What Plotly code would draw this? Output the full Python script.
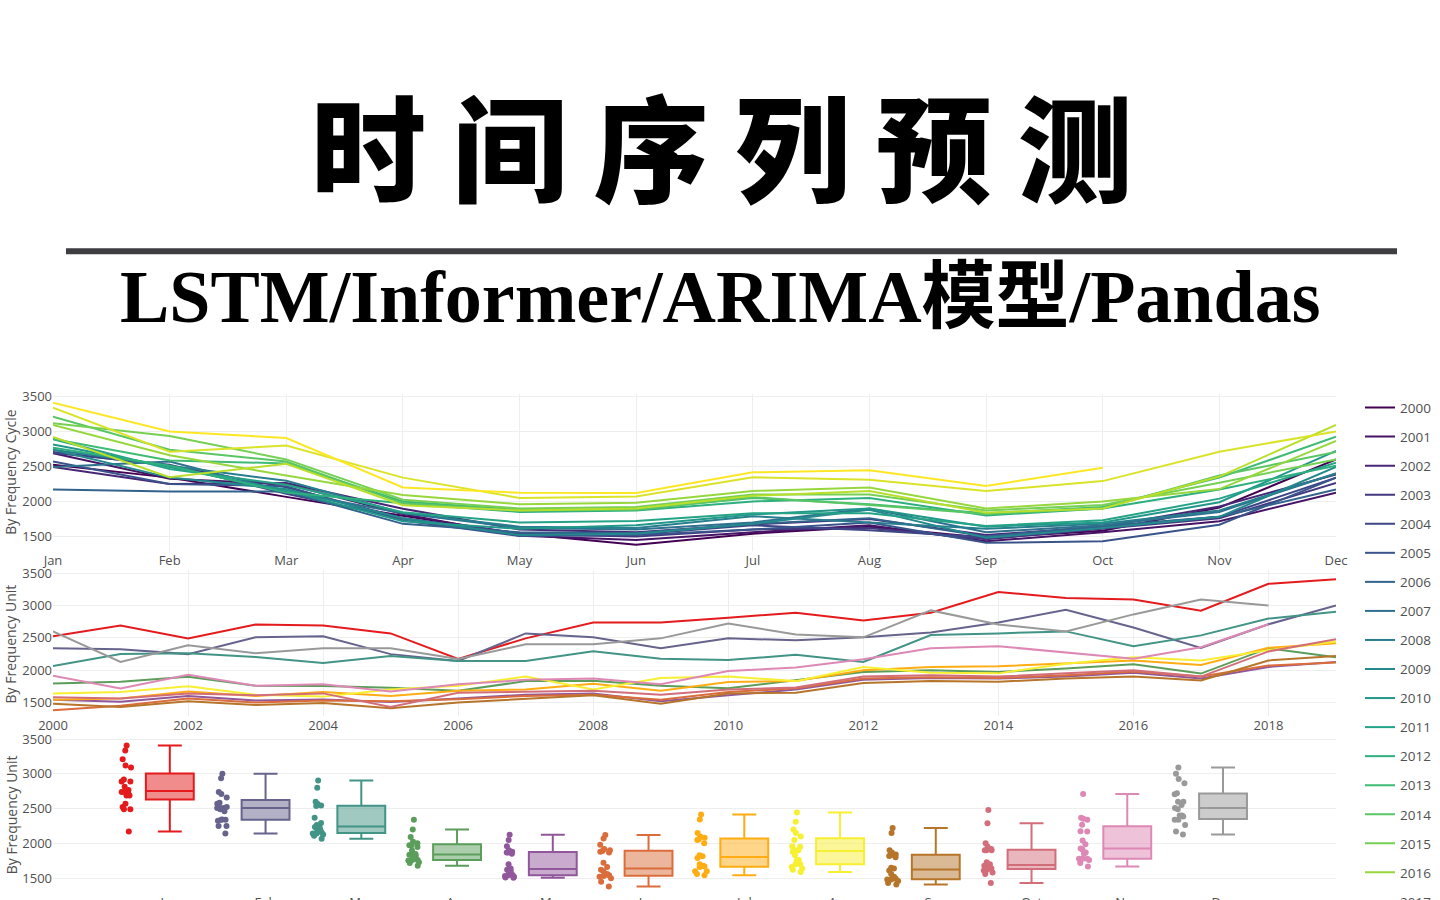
import plotly.graph_objects as go
import plotly.colors as pc

# ---------------- data ----------------
months = ['Jan', 'Feb', 'Mar', 'Apr', 'May', 'Jun', 'Jul', 'Aug', 'Sep', 'Oct', 'Nov', 'Dec']
years = list(range(2000, 2020))

v_jan = [2523, 2690, 2492, 2706, 2690, 2569, 2172, 2492, 2737, 2737, 2813, 2890, 2767, 2890, 3210, 3118, 3092, 2920, 3337, 3408]
v_feb = [2340, 2324, 2248, 2508, 2523, 2248, 2141, 2569, 2508, 2340, 2492, 2462, 2508, 2584, 2737, 2935, 2660, 2345, 2710, 3000]
v_mar = [2065, 2248, 2263, 2202, 2110, 2218, 2141, 2141, 2294, 2176, 2156, 2237, 2126, 2543, 2569, 2600, 2370, 2538, 2798, 2905]
v_apr = [1795, 1820, 1897, 1760, 1755, 1729, 1680, 1830, 1836, 1760, 1718, 1846, 1973, 2000, 1973, 2024, 2091, 1947, 2340, 2200]
v_may = [1540, 1510, 1600, 1530, 1545, 1505, 1560, 1620, 1640, 1520, 1610, 1700, 1850, 1880, 1870, 1900, 1960, 1870, 2050, 2125]
v_jun = [1380, 1450, 1560, 1500, 1530, 1520, 1550, 1600, 1620, 1540, 1660, 1720, 1870, 1890, 1880, 1920, 1980, 1900, 2070, 2120]
v_jul = [1540, 1560, 1670, 1600, 1660, 1600, 1680, 1700, 1790, 1680, 1815, 1830, 2000, 2050, 2060, 2100, 2150, 2080, 2345, 2415]
v_aug = [1640, 1660, 1750, 1620, 1590, 1700, 1760, 1900, 1700, 1880, 1900, 1830, 2050, 1960, 1950, 2100, 2200, 2150, 2310, 2445]
v_sep = [1480, 1430, 1520, 1460, 1490, 1410, 1500, 1560, 1610, 1480, 1640, 1650, 1800, 1830, 1820, 1870, 1900, 1840, 2150, 2220]
v_oct = [1580, 1560, 1640, 1610, 1640, 1430, 1650, 1660, 1680, 1620, 1700, 1730, 1900, 1920, 1900, 1950, 2000, 1900, 2290, 2480]
v_nov = [1912, 1718, 1927, 1760, 1780, 1668, 1780, 1850, 1870, 1780, 1988, 2040, 2170, 2340, 2370, 2268, 2176, 2355, 2710, None]
v_dec = [2600, 2126, 2385, 2263, 2340, 2340, 2172, 2400, 2400, 2492, 2721, 2553, 2508, 2925, 2706, 2600, 2863, 3092, 3000, None]

by_month = [v_jan, v_feb, v_mar, v_apr, v_may, v_jun, v_jul, v_aug, v_sep, v_oct, v_nov, v_dec]

month_colors = ['#e41a1c', '#66638d', '#419486', '#5b9d5a', '#91579b', '#da6d3b',
                '#ffad13', '#f7ef32', '#b6752a', '#d26e7a', '#dd88b5', '#999999']
year_colors = pc.sample_colorscale(pc.sequential.Viridis, [i / (len(years) - 1) for i in range(len(years))])

title_text = '时 间 序 列 预 测'
subtitle_text = 'LSTM/Informer/ARIMA模型/Pandas'
ytitle1 = 'By Frequency Cycle'
ytitle2 = 'By Frequency Unit'

# ---------------- geometry helpers ----------------
W, H = 1440, 1000
ML, MR = 53, 104
PW = W - ML - MR


def px(x):
    return (x - ML) / PW


def py(y):
    return 1 - y / H


fig = go.Figure()

# panel 1: one line per year across months
for yi, yr in enumerate(years):
    vals = [by_month[m][yi] for m in range(12)]
    fig.add_trace(go.Scatter(
        x=months, y=vals, mode='lines', name=str(yr), legendgroup=str(yr),
        line=dict(color=year_colors[yi], width=2), xaxis='x', yaxis='y'))

# panel 2: one line per month across years
for mi, m in enumerate(months):
    fig.add_trace(go.Scatter(
        x=years, y=by_month[mi], mode='lines', name=m, showlegend=False,
        line=dict(color=month_colors[mi], width=2), xaxis='x2', yaxis='y2'))

# panel 3: box per month
for mi, m in enumerate(months):
    vals = [v for v in by_month[mi] if v is not None]
    fig.add_trace(go.Box(
        y=vals, x=[m] * len(vals), name=m, showlegend=False,
        boxpoints='all', jitter=0.3, pointpos=-1.8, width=0.5,
        marker=dict(color=month_colors[mi], size=6),
        line=dict(color=month_colors[mi], width=2),
        xaxis='x3', yaxis='y3'))

grid = '#eeeeee'
tickf = dict(family='Open Sans, sans-serif', size=13, color='#505050')
common_x = dict(showgrid=True, gridcolor=grid, zeroline=False, showline=False, ticks='', tickfont=tickf)
common_y = dict(showgrid=True, gridcolor=grid, zeroline=False, showline=False, ticks='', tickfont=tickf,
                tickvals=[1500, 2000, 2500, 3000, 3500])

fig.update_layout(
    width=W, height=H,
    margin=dict(l=ML, r=MR, t=0, b=0),
    paper_bgcolor='white', plot_bgcolor='white',
    font=dict(family='Open Sans, sans-serif', color='#505050'),
    xaxis=dict(domain=[0, 1], anchor='y', type='category', categoryorder='array', categoryarray=months,
               range=[0, 11], **common_x),
    yaxis=dict(domain=[py(548), py(390)], range=[1290, 3530], **common_y),
    xaxis2=dict(domain=[0, 1], anchor='y2', range=[2000, 2019], tick0=2000, dtick=2, **common_x),
    yaxis2=dict(domain=[py(714), py(567)], range=[1290, 3550], **common_y),
    xaxis3=dict(domain=[0, 1], anchor='y3', type='category', categoryorder='array', categoryarray=months,
                range=[-1.22, 12.18], showgrid=False, zeroline=False, showline=False, ticks='', tickfont=tickf),
    yaxis3=dict(domain=[py(892), py(733)], range=[1290, 3560], **common_y),
    showlegend=True,
    legend=dict(x=px(1360), xanchor='left', y=py(388), yanchor='top',
                font=dict(family='Open Sans, sans-serif', size=13.5, color='#505050'),
                tracegroupgap=8.5, bgcolor='rgba(0,0,0,0)'),
    boxmode='overlay',
)

fig.add_shape(type='rect', xref='paper', yref='paper', x0=px(66), x1=px(1397), y0=py(249), y1=py(243),
              fillcolor='#3d3d42', line=dict(width=0))

fig.add_annotation(text=title_text, xref='paper', yref='paper', x=px(722), y=py(137),
                   xanchor='center', yanchor='middle', showarrow=False,
                   font=dict(family='Noto Sans CJK SC', size=115, color='black', weight=900))
fig.add_annotation(text=subtitle_text, xref='paper', yref='paper', x=px(720), y=py(292),
                   xanchor='center', yanchor='middle', showarrow=False,
                   font=dict(family='Liberation Serif, Noto Sans CJK SC', size=74, color='black', weight='bold'))

for txt, yc in [(ytitle1, 468), (ytitle2, 642), (ytitle2, 814)]:
    fig.add_annotation(text=txt, xref='paper', yref='paper', x=px(11), y=py(yc),
                       xanchor='center', yanchor='middle', showarrow=False, textangle=-90,
                       font=dict(family='Open Sans, sans-serif', size=14, color='#505050'))

fig.write_html("out.html",
               post_script="document.body.style.margin='0';document.body.style.overflow='hidden';"
                           "document.documentElement.style.overflow='hidden';")
